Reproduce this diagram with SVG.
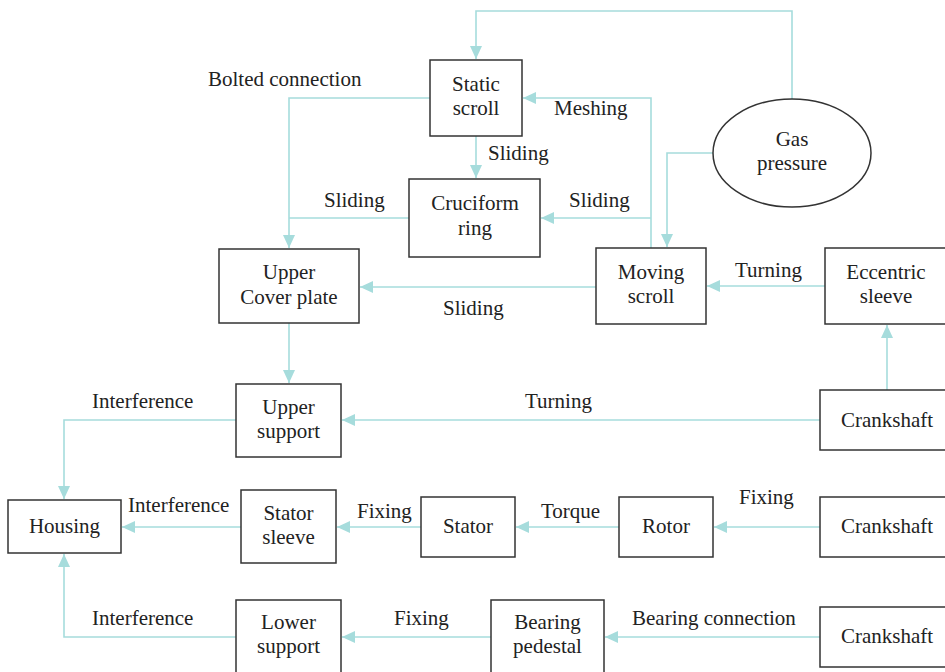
<svg xmlns="http://www.w3.org/2000/svg" width="945" height="672" viewBox="0 0 945 672">
<defs>
<marker id="ah" markerUnits="userSpaceOnUse" markerWidth="14" markerHeight="12" refX="13" refY="6" orient="auto">
<path d="M0,0 L13,6 L0,12 Z" fill="#a6dcdc"/>
</marker>
<style>
.n{fill:#fff;stroke:#333;stroke-width:1.5}
.t{font-family:"Liberation Serif","Times New Roman",serif;font-size:21px;fill:#222;text-anchor:middle}
.l{font-family:"Liberation Serif","Times New Roman",serif;font-size:21px;fill:#222}
.c{fill:none;stroke:#a6dcdc;stroke-width:1.6}
</style>
</defs>
<rect width="945" height="672" fill="#fff"/>
<g id="connectors">
<path class="c" d="M792,99 V11 H476 V59" marker-end="url(#ah)"/>
<path class="c" d="M651,248 V98 H523" marker-end="url(#ah)"/>
<path class="c" d="M651,218 H541" marker-end="url(#ah)"/>
<path class="c" d="M713,153 H667 V247" marker-end="url(#ah)"/>
<path class="c" d="M476,136 V178" marker-end="url(#ah)"/>
<path class="c" d="M430,98 H289 V248" marker-end="url(#ah)"/>
<path class="c" d="M409,218 H289"/>
<path class="c" d="M596,287 H360" marker-end="url(#ah)"/>
<path class="c" d="M825,286 H707" marker-end="url(#ah)"/>
<path class="c" d="M887,390 V325" marker-end="url(#ah)"/>
<path class="c" d="M289,323 V383" marker-end="url(#ah)"/>
<path class="c" d="M820,420 H342" marker-end="url(#ah)"/>
<path class="c" d="M236,420 H64 V499" marker-end="url(#ah)"/>
<path class="c" d="M241,527 H122" marker-end="url(#ah)"/>
<path class="c" d="M421,527 H337" marker-end="url(#ah)"/>
<path class="c" d="M619,527 H516" marker-end="url(#ah)"/>
<path class="c" d="M820,527 H714" marker-end="url(#ah)"/>
<path class="c" d="M236,637 H64 V554" marker-end="url(#ah)"/>
<path class="c" d="M491,637 H342" marker-end="url(#ah)"/>
<path class="c" d="M820,637 H605" marker-end="url(#ah)"/>
</g>
<g id="labels">
<text class="l" x="208" y="86">Bolted connection</text>
<text class="l" x="554" y="115">Meshing</text>
<text class="l" x="488" y="160">Sliding</text>
<text class="l" x="324" y="207">Sliding</text>
<text class="l" x="569" y="207">Sliding</text>
<text class="l" x="735" y="277">Turning</text>
<text class="l" x="443" y="315">Sliding</text>
<text class="l" x="92" y="408">Interference</text>
<text class="l" x="525" y="408">Turning</text>
<text class="l" x="128" y="512">Interference</text>
<text class="l" x="357" y="518">Fixing</text>
<text class="l" x="541" y="518">Torque</text>
<text class="l" x="739" y="504">Fixing</text>
<text class="l" x="92" y="625">Interference</text>
<text class="l" x="394" y="625">Fixing</text>
<text class="l" x="632" y="625">Bearing connection</text>
</g>
<g id="static-scroll"><rect class="n" x="430" y="60" width="92" height="76"/><text class="t" x="476" y="91">Static</text><text class="t" x="476" y="115">scroll</text></g>
<g id="gas-pressure"><ellipse class="n" cx="792" cy="153" rx="79" ry="54"/><text class="t" x="792" y="146">Gas</text><text class="t" x="792" y="170">pressure</text></g>
<g id="cruciform-ring"><rect class="n" x="409" y="179" width="131" height="78"/><text class="t" x="475" y="210">Cruciform</text><text class="t" x="475" y="235">ring</text></g>
<g id="upper-cover-plate"><rect class="n" x="219" y="249" width="140" height="74"/><text class="t" x="289" y="279">Upper</text><text class="t" x="289" y="304">Cover plate</text></g>
<g id="moving-scroll"><rect class="n" x="596" y="248" width="110" height="76"/><text class="t" x="651" y="279">Moving</text><text class="t" x="651" y="303">scroll</text></g>
<g id="eccentric-sleeve"><rect class="n" x="825" y="248" width="124" height="76"/><text class="t" x="886" y="279">Eccentric</text><text class="t" x="886" y="303">sleeve</text></g>
<g id="upper-support"><rect class="n" x="236" y="384" width="105" height="73"/><text class="t" x="288.5" y="414">Upper</text><text class="t" x="288.5" y="438">support</text></g>
<g id="crankshaft-1"><rect class="n" x="820" y="390" width="129" height="60"/><text class="t" x="887" y="427">Crankshaft</text></g>
<g id="housing"><rect class="n" x="8" y="500" width="113" height="53"/><text class="t" x="64.5" y="533">Housing</text></g>
<g id="stator-sleeve"><rect class="n" x="241" y="490" width="95" height="73"/><text class="t" x="288.5" y="520">Stator</text><text class="t" x="288.5" y="544">sleeve</text></g>
<g id="stator"><rect class="n" x="421" y="497" width="94" height="60"/><text class="t" x="468" y="533">Stator</text></g>
<g id="rotor"><rect class="n" x="619" y="497" width="94" height="60"/><text class="t" x="666" y="533">Rotor</text></g>
<g id="crankshaft-2"><rect class="n" x="820" y="497" width="129" height="60"/><text class="t" x="887" y="533">Crankshaft</text></g>
<g id="lower-support"><rect class="n" x="236" y="600" width="105" height="76"/><text class="t" x="288.5" y="629">Lower</text><text class="t" x="288.5" y="653">support</text></g>
<g id="bearing-pedestal"><rect class="n" x="491" y="600" width="113" height="76"/><text class="t" x="547.5" y="629">Bearing</text><text class="t" x="547.5" y="653">pedestal</text></g>
<g id="crankshaft-3"><rect class="n" x="820" y="607" width="129" height="60"/><text class="t" x="887" y="643">Crankshaft</text></g>
</svg>
